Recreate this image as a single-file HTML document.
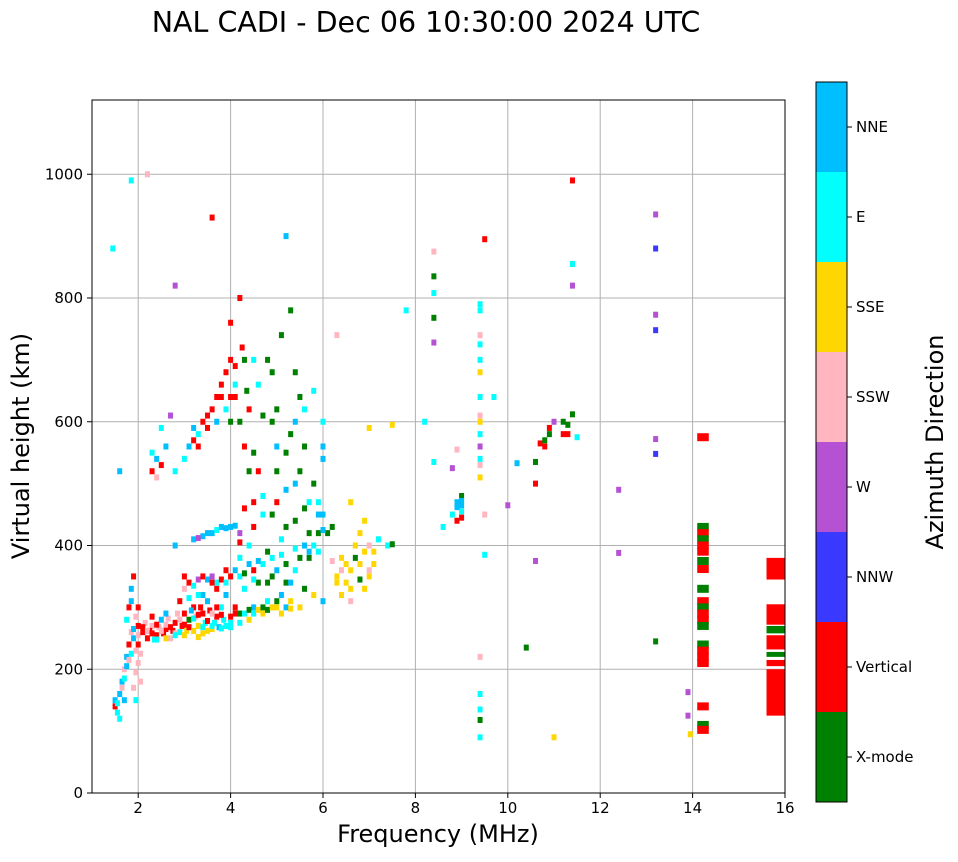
<!DOCTYPE html>
<html><head><meta charset="utf-8"><style>
body{margin:0;background:#fff;font-family:"Liberation Sans",sans-serif;}
svg text{font-family:"DejaVu Sans","Liberation Sans",sans-serif;}
</style></head><body>
<svg id="chart" width="958" height="857"></svg>
<script>
const directions=["X-mode","Vertical","NNW","W","SSW","SSE","E","NNE"];
const dirColors=["#008000","#ff0000","#3939ff","#b452d3","#ffb6c1","#ffd700","#00ffff","#00bfff"];
const xTicks=[2,4,6,8,10,12,14,16];
const yTicks=[0,200,400,600,800,1000];
// echoes: [freq MHz, height km, direction index]
const echoes=[
[1.5,150,7],[1.5,140,1],[1.55,130,6],[1.6,160,7],[1.65,180,7],[1.7,200,4],[1.75,220,7],[1.8,240,1],[1.85,260,4],[1.9,250,7],[1.95,230,4],[2.0,210,4],[2.0,270,1],[2.05,180,4],[1.8,300,1],[1.85,330,7],[1.9,350,1],[1.6,520,7],[1.45,880,6],[1.85,990,6],[2.2,1000,4],[1.7,150,7],[1.6,120,6],[1.95,195,4],[2.0,240,1],
[1.55,145,6],[1.65,170,4],[1.7,185,6],[1.75,205,7],[1.8,215,4],[1.85,225,6],[1.9,265,7],[1.95,285,4],[2.0,300,1],[1.85,310,7],[1.75,280,6],[2.0,255,4],[2.05,225,4],[1.9,170,4],[1.95,150,6],
[2.1,260,1],[2.2,250,1],[2.3,270,4],[2.4,255,1],[2.5,280,7],[2.6,265,1],[2.7,250,4],[2.8,275,1],[2.9,260,6],[3.0,290,1],[3.1,280,0],[3.2,300,1],[3.3,270,5],[3.4,290,1],[3.5,310,7],[3.6,265,5],[3.7,285,1],[3.8,300,6],[3.9,320,7],[4.0,275,6],[4.1,300,1],[4.2,290,0],[4.3,330,6],[4.4,280,5],[4.5,300,7],[4.6,340,0],[4.7,290,5],[4.8,310,6],[4.9,350,0],[5.0,300,5],[5.1,320,7],[5.2,340,0],[5.3,310,5],[5.4,360,6],[5.5,300,5],[5.6,330,0],[5.7,380,0],[5.8,320,5],[5.9,390,6],[6.0,310,7],
[2.15,275,4],[2.25,262,1],[2.35,248,6],[2.45,268,4],[2.55,258,1],[2.65,282,4],[2.75,262,1],[2.85,290,4],[2.95,270,1],[3.05,262,5],[3.15,295,7],[3.25,285,4],[3.35,300,1],[3.45,275,6],[3.55,295,1],[3.65,275,6],[3.75,268,7],[3.85,280,6],[2.3,285,1],[2.6,290,7],[2.9,310,1],[3.1,315,6],[3.4,320,7],[3.7,330,1],
[2.1,268,1],[2.2,262,4],[2.3,258,1],[2.4,272,1],[2.5,262,4],[2.6,272,4],[2.7,268,1],[2.8,258,4],[2.9,280,4],[3.0,272,1],[3.1,268,1],[3.2,282,6],[3.3,288,1],[3.4,268,6],[3.5,278,1],[3.6,290,4],[3.7,300,1],[3.8,288,1],[3.9,270,6],[4.0,285,1],[4.1,290,1],[4.2,275,6],[4.3,290,6],[4.4,296,0],[4.5,290,6],[4.6,296,5],[4.7,300,0],[4.8,296,0],[4.9,300,5],[5.0,310,0],[5.1,290,5],[5.2,300,7],[5.3,298,5],
[2.4,248,6],[2.6,250,5],[2.8,255,6],[3.0,255,5],[3.2,262,5],[3.4,258,5],[3.6,270,6],[3.8,266,6],[4.0,268,6],[3.3,252,5],[3.5,262,5],
[3.0,330,4],[3.1,340,1],[3.2,335,6],[3.3,345,3],[3.4,350,1],[3.5,345,7],[3.6,350,3],[3.7,340,6],[3.8,345,1],[3.9,340,6],[4.0,350,1],[4.1,360,7],[4.2,350,6],[4.3,355,0],[4.4,370,7],[4.5,345,6],[4.6,375,7],[4.7,370,6],[4.8,340,0],[4.9,380,6],[5.0,360,7],[5.1,385,6],[5.2,370,0],[5.3,340,7],[5.4,395,6],[5.5,380,0],[5.6,400,7],[5.7,390,7],[5.8,400,6],[5.9,420,0],[6.0,450,7],
[6.1,420,0],[6.2,430,0],[6.3,350,5],[6.4,380,5],[6.5,340,5],[6.6,360,5],[6.7,400,5],[6.8,370,5],[6.9,390,5],[7.0,350,5],[7.1,370,5],[7.2,410,6],[7.4,400,6],[7.5,402,0],[6.4,320,5],[6.6,310,4],[6.9,330,5],[7.0,400,4],
[6.3,340,5],[6.5,370,5],[6.7,380,0],[6.8,420,5],[6.9,440,5],[7.0,360,4],[7.1,390,5],[6.6,330,5],[6.4,360,4],[6.8,345,0],[6.2,375,4],
[3.0,350,1],[3.3,320,6],[3.6,340,1],[3.9,360,1],[4.2,380,6],[4.5,360,1],[4.8,390,0],[5.1,410,6],[5.4,440,0],[5.7,470,6],[3.2,410,7],[3.4,415,7],[3.6,420,7],[3.8,430,7],[4.0,430,7],[4.1,432,7],[2.8,400,7],[4.4,400,6],[4.7,450,6],[5.2,490,7],[5.5,520,0],[6.0,540,7],[6.0,600,6],[5.8,650,6],[5.6,560,0],[5.3,580,0],[5.0,620,0],[4.8,700,0],[5.1,740,0],[5.3,780,0],[5.2,900,7],[4.6,660,6],
[3.3,412,3],[3.5,420,7],[3.7,425,6],[3.9,428,7],[4.2,420,3],[4.2,405,1],[4.5,430,1],[4.3,460,1],[4.9,450,0],[5.2,430,0],[5.6,460,0],[5.9,450,7],[6.0,425,7],[5.7,420,0],
[4.4,620,1],[4.1,640,1],[4.0,700,1],[3.8,660,1],[3.6,620,1],[3.4,600,1],[3.2,570,1],[3.0,540,6],[2.8,520,6],[2.6,560,7],[2.4,540,7],[2.3,520,1],[3.5,590,1],[3.9,680,1],[4.2,800,1],[4.0,760,1],[4.3,560,1],[4.6,520,1],[5.0,470,1],[4.5,550,0],[3.2,590,7],[2.5,590,6],[2.7,610,3],[3.6,930,1],[2.8,820,3],[6.3,740,4],[6.6,470,5],[7.0,590,5],[7.5,595,5],[7.8,780,6],[3.3,560,1],[3.7,640,1],[4.1,690,1],[4.25,720,1],[4.35,650,0],[4.9,600,0],[5.4,680,0],[5.6,620,6],
[2.4,510,4],[2.5,530,1],[2.3,550,6],[3.1,560,7],[3.3,580,6],[3.5,610,1],[3.7,600,7],[3.8,640,1],[3.9,620,6],[4.0,640,1],[4.1,660,6],[4.0,600,0],[4.2,600,0],[4.3,700,0],[4.5,700,6],[4.7,610,0],[4.9,680,0],[5.0,560,7],[5.2,550,0],[5.4,600,7],[5.5,640,0],[5.0,520,0],[4.7,480,6],[4.5,470,1],[5.4,500,7],[5.8,500,0],[6.0,560,7],[5.9,470,6],[4.4,520,0],
[8.2,600,6],[8.4,875,4],[8.4,835,0],[8.4,808,6],[8.4,768,0],[8.4,728,3],[8.4,535,6],[8.6,430,6],[8.8,450,6],[8.9,470,7],[9.0,480,0],[8.9,440,1],[8.8,525,3],[8.9,555,4],[9.4,780,6],[9.4,740,4],[9.4,700,6],[9.4,680,5],[9.4,640,6],[9.4,610,4],[9.4,580,6],[9.4,560,3],[9.4,540,6],[9.4,510,5],[9.5,450,4],[9.4,220,4],[9.4,160,6],[9.4,135,6],[9.4,118,0],[9.4,90,6],[9.5,385,6],[9.5,895,1],[9.7,640,6],[10.0,465,3],[10.2,533,7],[10.4,235,0],[10.6,535,0],[10.6,500,1],[10.7,565,1],[10.8,570,0],[10.9,580,0],[11.0,600,3],[11.0,90,5],[11.2,580,1],[11.3,595,0],[11.4,612,0],[11.4,990,1],[11.4,855,6],[11.4,820,3],[12.4,490,3],[12.4,388,3],[13.2,935,3],[13.2,880,2],[13.2,773,3],[13.2,748,2],[13.2,572,3],[13.2,548,2],[13.2,245,0],[13.9,163,3],[13.9,125,3],[13.95,95,5],[10.6,375,3],[9.0,465,7],[9.0,455,6],
[8.9,462,7],[9.0,445,1],[9.0,472,7],[9.4,790,6],[9.4,725,6],[9.4,600,5],[9.4,530,4],[10.8,560,1],[10.9,590,1],[11.2,600,0],[11.3,580,1],[11.5,575,6]
];
// vertical column at 14.2 MHz: [height, dir]
const col14=[[575,1],[430,0],[420,1],[410,0],[400,1],[390,1],[375,0],[362,1],[330,0],[310,1],[300,0],[290,1],[280,1],[270,0],[240,0],[230,1],[220,1],[210,1],[140,1],[110,0],[102,1]];
// right-edge bars: [h0, h1, dir]
const edgeBars=[[125,200,1],[205,215,1],[220,228,0],[232,255,1],[258,270,0],[272,305,1],[345,380,1]];

const svg=document.getElementById('chart');const NS='http://www.w3.org/2000/svg';
const X0=92,X1=785,Y0=793,Y1=100,fmin=1,fmax=16,hmax=1120;
const xs=f=>X0+(f-fmin)/(fmax-fmin)*(X1-X0);
const ys=h=>Y0-h/hmax*(Y0-Y1);
function el(t,a,p){const e=document.createElementNS(NS,t);for(const k in a)e.setAttribute(k,a[k]);(p||svg).appendChild(e);return e;}
const grid=el('g',{});


xTicks.forEach(t=>{el('line',{x1:xs(t),x2:xs(t),y1:Y1,y2:Y0,stroke:'#b0b0b0','stroke-width':1},grid);});
yTicks.forEach(t=>{el('line',{x1:X0,x2:X1,y1:ys(t),y2:ys(t),stroke:'#b0b0b0','stroke-width':1},grid);});
const marks=el('g',{});


echoes.forEach(p=>{const r=el('rect',{x:xs(p[0])-2.5,y:ys(p[1])-3,width:5,height:6,fill:dirColors[p[2]]},marks);

});
col14.forEach(p=>{const r=el('rect',{x:xs(14.1),y:ys(p[0])-4,width:xs(14.35)-xs(14.1),height:8,fill:dirColors[p[1]]},marks);

});
edgeBars.forEach(p=>{const r=el('rect',{x:xs(15.6),y:ys(p[1]),width:X1-xs(15.6),height:ys(p[0])-ys(p[1]),fill:dirColors[p[2]]},marks);

});
el('rect',{x:X0,y:Y1,width:X1-X0,height:Y0-Y1,fill:'none',stroke:'#000','stroke-width':1});
xTicks.forEach(t=>{el('line',{x1:xs(t),x2:xs(t),y1:Y0,y2:Y0+5,stroke:'#000'});const tx=el('text',{x:xs(t),y:Y0+20,'font-size':15,'text-anchor':'middle'});tx.textContent=t;

});
yTicks.forEach(t=>{el('line',{x1:X0-5,x2:X0,y1:ys(t),y2:ys(t),stroke:'#000'});const tx=el('text',{x:X0-9,y:ys(t)+5,'font-size':15,'text-anchor':'end'});tx.textContent=t;

});
let t=el('text',{x:438,y:842,'font-size':24,'text-anchor':'middle'});t.textContent='Frequency (MHz)';


t=el('text',{x:0,y:0,'font-size':24,'text-anchor':'middle',transform:'translate(29,446) rotate(-90)'});t.textContent='Virtual height (km)';


t=el('text',{x:426,y:32,'font-size':28.5,'text-anchor':'middle'});t.textContent='NAL CADI - Dec 06 10:30:00 2024 UTC';


// colorbar
const CB0=82,CB1=802,segH=(CB1-CB0)/directions.length;
directions.forEach((d,i)=>{const idx=directions.length-1-i;const y=CB0+i*segH;
const r=el('rect',{x:816,y:y,width:31,height:segH,fill:dirColors[idx]});


el('line',{x1:847,x2:852,y1:y+segH/2,y2:y+segH/2,stroke:'#000'});
const tx=el('text',{x:856,y:y+segH/2+5,'font-size':15});tx.textContent=directions[idx];

});
el('rect',{x:816,y:CB0,width:31,height:CB1-CB0,fill:'none',stroke:'#000'});
t=el('text',{x:0,y:0,'font-size':24,'text-anchor':'middle',transform:'translate(943,442) rotate(-90)'});t.textContent='Azimuth Direction';


</script>
</body></html>
